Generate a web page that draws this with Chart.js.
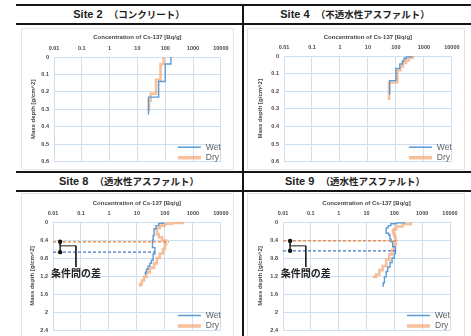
<!DOCTYPE html>
<html>
<head>
<meta charset="utf-8">
<script src="https://cdn.jsdelivr.net/npm/chart.js@4.4.1/dist/chart.umd.min.js"></script>
<style>
body { margin: 0; background: #fff; }
#page { position: relative; width: 471px; height: 336px; overflow: hidden; }
.hline { position: absolute; left: 16px; right: 0; height: 2px; background: #151515; }
.vline { position: absolute; left: 242px; top: 4px; bottom: 0; width: 2px; background: #151515; }
.head { position: absolute; text-align: center; font: bold 11px "Liberation Sans", "Noto Sans", sans-serif; color: #222; line-height: 17px; height: 17px; }
.head .jp { font: bold 9.5px "Noto Sans CJK JP", sans-serif; }
canvas { position: absolute; }
</style>
</head>
<body>
<div id="page">
	<div class="hline" style="top:4px"></div>
	<div class="hline" style="top:23px"></div>
	<div class="hline" style="top:171px"></div>
	<div class="hline" style="top:190px"></div>
	<div class="vline"></div>
	<div class="head" style="left:16px;width:226px;top:6px">Site 2&nbsp;&nbsp;<span class="jp">（コンクリート）</span></div>
	<div class="head" style="left:244px;width:222px;top:6px">Site 4&nbsp;&nbsp;<span class="jp">（不透水性アスファルト）</span></div>
	<div class="head" style="left:16px;width:226px;top:173px">Site 8&nbsp;&nbsp;<span class="jp">（透水性アスファルト）</span></div>
	<div class="head" style="left:244px;width:222px;top:173px">Site 9&nbsp;&nbsp;<span class="jp">（透水性アスファルト）</span></div>
	<canvas id="c2" width="213" height="142" style="left:21px;top:28px"></canvas>
	<canvas id="c4" width="218" height="142" style="left:247px;top:28px"></canvas>
	<canvas id="c8" width="213" height="150" style="left:21px;top:193px"></canvas>
	<canvas id="c9" width="218" height="150" style="left:247px;top:193px"></canvas>
</div>
<script>
// axis ticks
const xTicks = [0.01, 0.1, 1, 10, 100, 1000, 10000];
const xTickLabels = ['0.01', '0.1', '1', '10', '100', '1000', '10000'];
const yTicksShallow = [0, 0.1, 0.2, 0.3, 0.4, 0.5, 0.6];
const yTicksDeep = [0, 0.4, 0.8, 1.2, 1.6, 2, 2.4];
const yLabelsShallow = ['0', '0.1', '0.2', '0.3', '0.4', '0.5', '0.6'];
const yLabelsDeep = ['0', '0.4', '0.8', '1.2', '1.6', '2', '2.4'];

// Cs-137 profiles [Bq/g] by top depth of each layer [g/cm^2] (last point = bottom)
const site2WetConc = [160, 100, 58, 25, 25];
const site2WetDepth = [0, 0.04, 0.14, 0.23, 0.33];
const site2DryConc = [87, 68, 47, 30, 26, 26];
const site2DryDepth = [0, 0.04, 0.13, 0.21, 0.25, 0.31];

const site4WetConc = [365, 236, 195, 170, 138, 100, 60, 60];
const site4WetDepth = [0, 0.005, 0.013, 0.028, 0.045, 0.07, 0.14, 0.22];
const site4DryConc = [410, 290, 230, 180, 145, 112, 57, 57];
const site4DryDepth = [0, 0.01, 0.025, 0.04, 0.06, 0.08, 0.15, 0.25];

const site8WetConc = [87, 60, 48, 41, 38, 36, 44, 38, 33, 29, 25, 22, 20, 20];
const site8WetDepth = [0, 0.03, 0.08, 0.15, 0.3, 0.4, 0.57, 0.71, 0.85, 0.92, 0.98, 1.05, 1.12, 1.18];
const site8DryConc = [440, 180, 100, 66, 52, 60, 80, 110, 100, 85, 66, 52, 41, 29, 22, 18, 15, 13, 13];
const site8DryDepth = [0, 0.02, 0.04, 0.08, 0.14, 0.27, 0.34, 0.41, 0.5, 0.6, 0.7, 0.8, 0.92, 1.02, 1.12, 1.22, 1.3, 1.38, 1.44];

const site9WetConc = [230, 120, 75, 60, 51, 63, 70, 76, 87, 110, 100, 83, 70, 58, 51, 44, 40, 40];
const site9WetDepth = [0, 0.02, 0.04, 0.08, 0.13, 0.25, 0.29, 0.38, 0.44, 0.55, 0.7, 0.8, 0.9, 1.0, 1.1, 1.22, 1.35, 1.44];
const site9DryConc = [390, 200, 115, 91, 100, 110, 115, 100, 83, 66, 51, 38, 29, 22, 19, 19];
const site9DryDepth = [0, 0.05, 0.1, 0.17, 0.25, 0.32, 0.4, 0.5, 0.62, 0.72, 0.84, 0.98, 1.07, 1.17, 1.22, 1.25];

// peak depth markers: [dry, wet]
const site8PeakDepth = [0.44, 0.67];
const site8PeakConc = [140, 44];
const site9PeakDepth = [0.42, 0.64];
const site9PeakConc = [117, 120];
const markerConc = 0.018;
const bracketConc = 0.066;
const bracketMidDepth = 0.53;
const bracketEndDepth = 1.0;
const noteDepth = 1.13;
const noteText = '条件間の差';

const WET = '#5b9bd5';
const DRY = 'rgba(244,170,120,0.75)';
const GRID = '#cddff1';
const TXT = '#454545';

function pts(xs, ys) {
	return xs.map((v, i) => ({x: v, y: ys[i]}));
}

const panelPlugin = {
	id: 'panel',
	beforeDraw: function(chart) {
		let ctx = chart.ctx;
		ctx.save();
		ctx.fillStyle = '#fff';
		ctx.fillRect(0, 0, chart.width, chart.height);
		ctx.strokeStyle = '#ebe4de';
		ctx.lineWidth = 1;
		ctx.strokeRect(0.5, 0.5, chart.width - 1, chart.height - 1);
		ctx.restore();
	},
	afterDraw: function(chart) {
		let ctx = chart.ctx;
		let a = chart.chartArea;
		ctx.save();
		// legend, bottom right of the plot
		let items = chart.data.datasets.filter(d => d.inLegend);
		items.forEach((d, i) => {
			let y = a.bottom - 14.5 + i * 10.5;
			ctx.strokeStyle = d.borderColor;
			ctx.lineWidth = d.legendWidth;
			ctx.beginPath();
			ctx.moveTo(a.right - 43, y);
			ctx.lineTo(a.right - 20, y);
			ctx.stroke();
			ctx.fillStyle = '#5f5f5f';
			ctx.font = '8.5px "Liberation Sans", sans-serif';
			ctx.textBaseline = 'middle';
			ctx.fillText(d.label, a.right - 15, y);
		});
		// note under the bracket
		let note = chart.options.plugins.panel.note;
		if(note) {
			ctx.fillStyle = '#222';
			ctx.font = 'bold 10px "Noto Sans CJK JP", sans-serif';
			ctx.textAlign = 'center';
			ctx.textBaseline = 'middle';
			ctx.fillText(note.text, chart.scales.x.getPixelForValue(note.x), chart.scales.y.getPixelForValue(note.y));
		}
		ctx.restore();
	},
};

function makeChart(id, g, yMax, yTicks, yLabels, wet, dry, peaks) {
	let datasets = [];
	if(peaks) {
		datasets.push({
			data: [{x: markerConc, y: peaks.depth[0]}, {x: markerConc, y: peaks.depth[1]}, {x: markerConc, y: bracketMidDepth},
				{x: bracketConc, y: bracketMidDepth}, {x: bracketConc, y: bracketEndDepth}],
			borderColor: '#222', borderWidth: 1, pointRadius: 0,
		});
		datasets.push({
			data: [{x: markerConc, y: peaks.depth[0]}, {x: markerConc, y: peaks.depth[1]}],
			showLine: false, pointRadius: 2.2, pointBackgroundColor: '#111', pointBorderWidth: 0,
		});
		datasets.push({
			data: [{x: 0.01, y: peaks.depth[0]}, {x: peaks.conc[0], y: peaks.depth[0]}],
			borderColor: '#ed7d31', borderWidth: 1.3, borderDash: [3, 2], pointRadius: 0,
		});
		datasets.push({
			data: [{x: 0.01, y: peaks.depth[1]}, {x: peaks.conc[1], y: peaks.depth[1]}],
			borderColor: '#4472c4', borderWidth: 1.3, borderDash: [3, 2], pointRadius: 0,
		});
	}
	datasets.push({label: 'Wet', data: wet, borderColor: WET, borderWidth: 1.4, stepped: 'after', pointRadius: 0, inLegend: true, legendWidth: 1.5});
	datasets.push({label: 'Dry', data: dry, borderColor: DRY, borderWidth: 2.6, stepped: 'after', pointRadius: 0, inLegend: true, legendWidth: 3.5});

	let tickFont = {family: '"Liberation Sans", sans-serif', size: 5.5, weight: 'bold'};
	let titleFont = {family: '"Liberation Sans", sans-serif', size: 6, weight: 'bold'};
	return new Chart(document.getElementById(id), {
		type: 'line',
		data: {datasets: datasets},
		plugins: [panelPlugin],
		options: {
			responsive: false,
			animation: false,
			events: [],
			layout: {padding: {left: 0, top: 0, right: g.right, bottom: g.bottom}},
			plugins: {
				legend: {display: false},
				tooltip: {enabled: false},
				panel: {note: peaks ? {text: noteText, x: bracketConc, y: noteDepth} : null},
			},
			scales: {
				x: {
					type: 'logarithmic', position: 'top', min: 0.01, max: 10000,
					afterBuildTicks: s => { s.ticks = xTicks.map(v => ({value: v})); },
					afterFit: s => { s.height = g.top; },
					ticks: {autoSkip: false, maxRotation: 0, padding: 5.5, color: TXT, font: tickFont,
						callback: (v, i) => xTickLabels[i]},
					grid: {color: GRID, drawTicks: false},
					border: {color: GRID},
					title: {display: true, text: 'Concentration of Cs-137 [Bq/g]', color: TXT, font: titleFont,
						padding: {top: g.xTitle, bottom: 0}},
				},
				y: {
					type: 'linear', reverse: true, min: 0, max: yMax,
					afterBuildTicks: s => { s.ticks = yTicks.map(v => ({value: v})); },
					afterFit: s => { s.width = g.left; },
					ticks: {padding: 5, color: TXT, font: tickFont, callback: (v, i) => yLabels[i]},
					grid: {color: GRID, drawTicks: false},
					border: {color: GRID},
					title: {display: true, text: 'Mass depth [g/cm^2]', color: TXT, font: titleFont,
						padding: {top: g.yTitle, bottom: 0}},
				},
			},
		},
	});
}

makeChart('c2', {left: 33, top: 29, right: 12, bottom: 7, xTitle: 5.4, yTitle: 8.4}, 0.6, yTicksShallow, yLabelsShallow,
	pts(site2WetConc, site2WetDepth), pts(site2DryConc, site2DryDepth), null);
makeChart('c4', {left: 37, top: 28, right: 12, bottom: 7, xTitle: 5.7, yTitle: 9.4}, 0.6, yTicksShallow, yLabelsShallow,
	pts(site4WetConc, site4WetDepth), pts(site4DryConc, site4DryDepth), null);
makeChart('c8', {left: 32, top: 29, right: 13, bottom: 13, xTitle: 7.2, yTitle: 7.4}, 2.4, yTicksDeep, yLabelsDeep,
	pts(site8WetConc, site8WetDepth), pts(site8DryConc, site8DryDepth), {depth: site8PeakDepth, conc: site8PeakConc});
makeChart('c9', {left: 36, top: 29, right: 15, bottom: 13, xTitle: 6.7, yTitle: 9.4}, 2.4, yTicksDeep, yLabelsDeep,
	pts(site9WetConc, site9WetDepth), pts(site9DryConc, site9DryDepth), {depth: site9PeakDepth, conc: site9PeakConc});
</script>
</body>
</html>
